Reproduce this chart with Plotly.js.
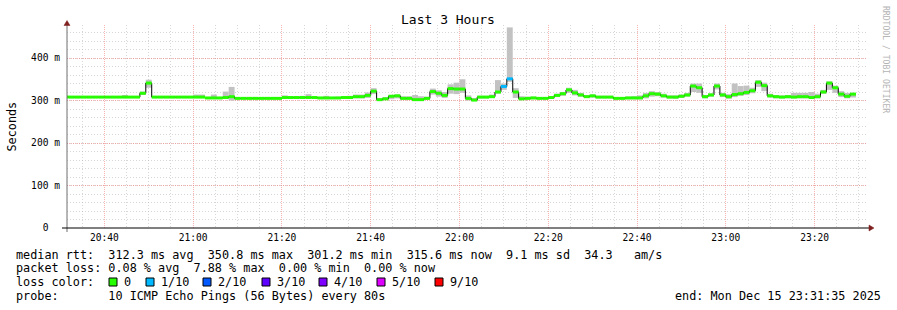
<!DOCTYPE html>
<html>
<head>
<meta charset="utf-8">
<script src="https://cdn.plot.ly/plotly-3.0.1.min.js"></script>
<style>
html,body{margin:0;padding:0;background:#fff;}
#chart{width:897px;height:310px;}
</style>
</head>
<body>
<div id="chart"></div>
<script>
// ---- data (80 s steps, first step starts 2025-12-15 20:30:40) ----
const firstStep = '2025-12-15 20:30:40';
const stepSeconds = 80;
const rangeStart = '2025-12-15 20:31:35';
const rangeEnd = '2025-12-15 23:31:35';

// median RTT per step, ms
const median = [
  308,308,308,308,308,308,308,308,308,308,308,308,308,
  317,341,
  308,308,308,308,308,308,308,308,308,
  306,306,306,307,309,
  305,305,305,305,305,305,305,305,
  307,307,307,307,307,307,
  306,306,306,306,
  307,307,309,309,312,322,
  302,304,310,311,305,305,302,302,305,321,
  317,312,328,327,327,305,301,308,308,309,
  320,333,351,320,304,305,306,305,305,307,
  312,316,325,318,313,309,311,308,308,308,
  305,305,306,306,306,311,316,315,311,308,
  308,310,313,334,330,309,313,334,313,309,
  314,316,319,323,343,335,311,309,308,309,
  308,309,309,307,309,320,341,330,315,310,
  315
];
// smoke (spread of the pings) per step, ms
const smokeLo = [
  306,306,306,306,306,306,306,306,306,306,306,306,306,
  313,330,
  306,306,306,306,306,306,306,306,306,
  304,304,304,304,300,
  303,303,303,303,303,303,303,303,
  305,305,305,305,305,305,
  304,304,304,304,
  305,305,305,305,306,315,
  300,301,303,305,302,302,300,300,302,314,
  309,306,316,315,318,300,299,305,305,306,
  316,325,344,306,301,303,303,303,303,304,
  308,311,318,312,309,306,307,305,305,305,
  303,303,303,303,303,305,309,310,307,305,
  304,306,309,320,318,305,309,326,308,304,
  308,311,313,317,332,322,307,305,305,305,
  305,305,305,305,305,316,325,318,308,305,
  307
];
const smokeHi = [
  310,310,310,310,310,310,310,310,310,310,313,310,310,
  321,349,
  310,310,310,310,310,310,310,314,314,
  308,314,308,321,332,
  307,307,307,307,307,307,307,307,
  312,309,309,311,315,309,
  308,311,308,309,
  309,311,314,314,319,329,
  305,308,313,314,310,310,313,310,309,328,
  324,320,338,342,350,312,306,311,311,314,
  348,340,472,329,310,309,309,308,308,310,
  316,320,330,325,318,313,314,311,311,311,
  308,308,309,310,312,318,322,320,316,312,
  312,314,318,340,340,313,317,340,318,315,
  340,334,335,330,348,342,316,313,312,313,
  318,318,318,320,316,325,345,335,322,318,
  318
];
// steps with packet loss (pings lost out of 10)
const lossStepTimes = ['2025-12-15 22:09:20', '2025-12-15 22:10:40'];
const lossCounts = [1, 1];

const lossLevels = [0, 1, 2, 3, 4, 5, 9];
const lossLabels = ['0', '1/10', '2/10', '3/10', '4/10', '5/10', '9/10'];
const lossColors = ['#26ff00', '#00b8ff', '#0059ff', '#5e00ff', '#7e00ff', '#dd00ff', '#ff0000'];

const yTickVals = [0, 100, 200, 300, 400];
const yTickText = ['0\u00a0\u00a0', '100\u00a0m', '200\u00a0m', '300\u00a0m', '400\u00a0m'];

const legendRtt = 'median rtt:  312.3 ms avg  350.8 ms max  301.2 ms min  315.6 ms now  9.1 ms sd  34.3   am/s';
const legendLoss = 'packet loss: 0.08 % avg  7.88 % max  0.00 % min  0.00 % now';
const legendProbe = 'probe:       10 ICMP Echo Pings (56 Bytes) every 80s';
const legendEnd = 'end: Mon Dec 15 23:31:35 2025';

// ---- build ----
function toMs(s) {
  const [d, t] = s.split(' ');
  const [Y, M, D] = d.split('-').map(Number);
  const [h, m, sec] = t.split(':').map(Number);
  return Date.UTC(Y, M - 1, D, h, m, sec);
}
const t0 = toMs(firstStep);
const stepMs = stepSeconds * 1000;
const times = median.map((_, i) => t0 + i * stepMs);
const loss = median.map(() => 0);
lossStepTimes.forEach((s, j) => { loss[Math.round((toMs(s) - t0) / stepMs)] = lossCounts[j]; });

const traces = [];
// smoke
traces.push({
  type: 'bar', x: times, base: smokeLo,
  y: smokeHi.map((h, i) => h - smokeLo[i]),
  width: stepMs, offset: 0,
  marker: { color: '#c2c2c2', line: { width: 0 } },
  hoverinfo: 'skip'
});
// median line
traces.push({
  type: 'scatter', mode: 'lines',
  x: times.concat([times[times.length - 1] + stepMs]),
  y: median.concat([median[median.length - 1]]),
  line: { shape: 'hv', color: '#000000', width: 1 },
  hoverinfo: 'skip'
});
// loss-coloured median band
lossLevels.forEach((lv, li) => {
  const xs = [], ys = [];
  median.forEach((m, i) => {
    if (loss[i] === lv) { xs.push(times[i], times[i] + stepMs, null); ys.push(m, m, null); }
  });
  if (xs.length) traces.push({
    type: 'scatter', mode: 'lines', x: xs, y: ys, connectgaps: false,
    line: { color: lossColors[li], width: 3 }, hoverinfo: 'skip'
  });
});

// ---- layout helpers (pixel -> paper) ----
const L = 67, T = 25, PW = 799, PH = 203;
const px = x => (x - L) / PW;
const py = y => (T + PH - y) / PH;
const nb = s => s.replace(/ /g, '\u00a0');
const mono = 'DejaVu Sans Mono, monospace';
const legSize = 11.8;

const annotations = [
  { text: 'Last 3 Hours', x: px(448), y: py(19.5), xanchor: 'center', yanchor: 'middle', font: { family: mono, size: 13, color: '#000' } },
  { text: 'Seconds', x: px(11), y: py(126.5), textangle: -90, xanchor: 'center', yanchor: 'middle', font: { family: mono, size: legSize, color: '#000' } },
  { text: nb('RRDTOOL / TOBI OETIKER'), x: px(886), y: py(59), textangle: 90, xanchor: 'center', yanchor: 'middle', font: { family: mono, size: 8.1, color: '#b4b4b4' } },
  { text: nb(legendRtt), x: px(13.5), y: py(254.5), xanchor: 'left', yanchor: 'middle', font: { family: mono, size: legSize, color: '#000' } },
  { text: nb(legendLoss), x: px(13.5), y: py(268), xanchor: 'left', yanchor: 'middle', font: { family: mono, size: legSize, color: '#000' } },
  { text: nb('loss color:'), x: px(13.5), y: py(282), xanchor: 'left', yanchor: 'middle', font: { family: mono, size: legSize, color: '#000' } },
  { text: nb(legendProbe), x: px(13.5), y: py(296), xanchor: 'left', yanchor: 'middle', font: { family: mono, size: legSize, color: '#000' } },
  { text: nb(legendEnd), x: px(883), y: py(296), xanchor: 'right', yanchor: 'middle', font: { family: mono, size: legSize, color: '#000' } }
];
const boxLeft = [109, 146, 203, 262, 319, 377, 435];
const shapes = [];
lossLabels.forEach((lab, i) => {
  shapes.push({ type: 'rect', xref: 'paper', yref: 'paper', x0: px(boxLeft[i]), x1: px(boxLeft[i] + 8), y0: py(286), y1: py(278),
    fillcolor: lossColors[i], line: { color: '#000', width: 1 } });
  annotations.push({ text: lab, x: px(boxLeft[i] + 12.5), y: py(282), xanchor: 'left', yanchor: 'middle', font: { family: mono, size: legSize, color: '#000' } });
});
annotations.forEach(a => { a.xref = 'paper'; a.yref = 'paper'; a.showarrow = false; });

// axes lines and arrows
shapes.push({ type: 'line', xref: 'paper', yref: 'paper', x0: px(67), x1: px(67), y0: py(232), y1: py(25), line: { color: '#6e6e6e', width: 1 } });
shapes.push({ type: 'line', xref: 'paper', yref: 'paper', x0: px(62), x1: px(869), y0: py(228), y1: py(228), line: { color: '#000', width: 1 } });
shapes.push({ type: 'path', xref: 'paper', yref: 'paper',
  path: `M ${px(869)} ${py(225)} L ${px(874)} ${py(228)} L ${px(869)} ${py(231)} Z`,
  fillcolor: '#7f1f1f', line: { color: '#7f1f1f', width: 0.5 } });
shapes.push({ type: 'path', xref: 'paper', yref: 'paper',
  path: `M ${px(64)} ${py(25.5)} L ${px(67)} ${py(20.5)} L ${px(70)} ${py(25.5)} Z`,
  fillcolor: '#7f1f1f', line: { color: '#7f1f1f', width: 0.5 } });

const gridMajor = 'rgba(240,120,120,0.55)';
const gridMinor = 'rgba(175,175,175,0.5)';

const layout = {
  width: 897, height: 310,
  margin: { l: L, r: 897 - L - PW, t: T, b: 310 - T - PH, pad: 0 },
  paper_bgcolor: '#ffffff', plot_bgcolor: '#ffffff',
  showlegend: false, barmode: 'overlay', hovermode: false,
  font: { family: mono, size: 9.6, color: '#000' },
  xaxis: {
    type: 'date', range: [rangeStart, rangeEnd],
    tickmode: 'linear', tick0: '2025-12-15 20:40:00', dtick: 20 * 60 * 1000, tickformat: '%H:%M',
    showgrid: true, gridcolor: gridMajor, griddash: '1px,1px', gridwidth: 1,
    minor: { tickmode: 'linear', tick0: '2025-12-15 20:40:00', dtick: 5 * 60 * 1000, showgrid: true, gridcolor: gridMinor, griddash: '1px,2px', gridwidth: 1 },
    ticks: '', ticklabelstandoff: 2, showline: false, zeroline: false, fixedrange: true,
    tickfont: { family: mono, size: 9.6, color: '#000' }
  },
  yaxis: {
    range: [0, PH / 0.425],
    tickmode: 'array', tickvals: yTickVals, ticktext: yTickText,
    showgrid: true, gridcolor: gridMajor, griddash: '1px,1px', gridwidth: 1,
    minor: { tickmode: 'linear', tick0: 0, dtick: 20, showgrid: true, gridcolor: gridMinor, griddash: '1px,2px', gridwidth: 1 },
    ticks: '', ticklabelstandoff: 6, showline: false, zeroline: false, fixedrange: true,
    tickfont: { family: mono, size: 9.6, color: '#000' }
  },
  shapes: shapes,
  annotations: annotations
};

Plotly.newPlot('chart', traces, layout, { displayModeBar: false, staticPlot: true });
</script>
</body>
</html>
